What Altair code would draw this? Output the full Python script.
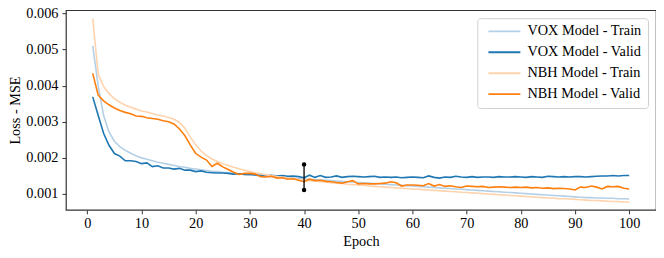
import altair as alt
import pandas as pd

epochs = list(range(1, 101))

vox_train = [
    0.00510, 0.00400, 0.00318, 0.00272, 0.00246, 0.00231, 0.00221, 0.00213, 0.00206, 0.00200,
    0.00196, 0.00192, 0.00188, 0.00185, 0.00182, 0.00179, 0.00176, 0.00174, 0.00171, 0.00169,
    0.00167, 0.00165, 0.00163, 0.00162, 0.00160, 0.00159, 0.00157, 0.00156, 0.00154, 0.00153,
    0.00152, 0.00150, 0.00149, 0.00148, 0.00147, 0.00146, 0.00145, 0.00144, 0.00143, 0.00142,
    0.00141, 0.00140, 0.00139, 0.00138, 0.00137, 0.00136, 0.00135, 0.00134, 0.00133, 0.00132,
    0.00131, 0.00130, 0.00129, 0.00128, 0.00127, 0.00126, 0.00125, 0.00124, 0.00123, 0.00122,
    0.00121, 0.00120, 0.00119, 0.00118, 0.00117, 0.00116, 0.00115, 0.00114, 0.00113, 0.00112,
    0.00111, 0.00110, 0.00109, 0.00108, 0.00107, 0.00106, 0.00105, 0.00104, 0.00103, 0.00102,
    0.00101, 0.00100, 0.00099, 0.00098, 0.00097, 0.00096, 0.00095, 0.00094, 0.00093, 0.00092,
    0.00091, 0.00090, 0.00090, 0.00089, 0.00089, 0.00088, 0.00088, 0.00087, 0.00087, 0.00086,
]

vox_valid = [
    0.00369, 0.00318, 0.00268, 0.00235, 0.00212, 0.00205, 0.00192, 0.00192, 0.00190, 0.00184,
    0.00186, 0.00176, 0.00178, 0.00172, 0.00172, 0.00169, 0.00171, 0.00166, 0.00166, 0.00162,
    0.00164, 0.00160, 0.00159, 0.00158, 0.00158, 0.00157, 0.00155, 0.00156, 0.00154, 0.00155,
    0.00153, 0.00152, 0.00151, 0.00152, 0.00150, 0.00151, 0.00149, 0.00150, 0.00148, 0.00145,
    0.00152, 0.00146, 0.00151, 0.00146, 0.00147, 0.00150, 0.00146, 0.00148, 0.00149, 0.00148,
    0.00147, 0.00148, 0.00149, 0.00146, 0.00147, 0.00146, 0.00147, 0.00145, 0.00146, 0.00147,
    0.00146, 0.00145, 0.00150, 0.00146, 0.00144, 0.00147, 0.00146, 0.00149, 0.00147, 0.00146,
    0.00148, 0.00146, 0.00147, 0.00147, 0.00146, 0.00148, 0.00147, 0.00147, 0.00148, 0.00147,
    0.00146, 0.00148, 0.00147, 0.00146, 0.00149, 0.00148, 0.00147, 0.00148, 0.00147, 0.00148,
    0.00148, 0.00147, 0.00148, 0.00149, 0.00150, 0.00150, 0.00151, 0.00150, 0.00151, 0.00151,
]

nbh_train = [
    0.00586, 0.00432, 0.00398, 0.00378, 0.00364, 0.00354, 0.00346, 0.00340, 0.00335, 0.00330,
    0.00327, 0.00323, 0.00319, 0.00316, 0.00312, 0.00307, 0.00298, 0.00282, 0.00258, 0.00236,
    0.00219, 0.00206, 0.00197, 0.00190, 0.00184, 0.00179, 0.00174, 0.00170, 0.00166, 0.00162,
    0.00159, 0.00156, 0.00153, 0.00151, 0.00148, 0.00146, 0.00144, 0.00142, 0.00140, 0.00139,
    0.00137, 0.00136, 0.00134, 0.00133, 0.00131, 0.00130, 0.00129, 0.00127, 0.00126, 0.00125,
    0.00124, 0.00122, 0.00121, 0.00120, 0.00119, 0.00118, 0.00117, 0.00116, 0.00115, 0.00114,
    0.00113, 0.00112, 0.00111, 0.00110, 0.00109, 0.00108, 0.00107, 0.00106, 0.00105, 0.00104,
    0.00103, 0.00102, 0.00101, 0.00100, 0.00099, 0.00098, 0.00097, 0.00096, 0.00095, 0.00094,
    0.00093, 0.00092, 0.00091, 0.00090, 0.00089, 0.00088, 0.00087, 0.00087, 0.00086, 0.00085,
    0.00084, 0.00083, 0.00082, 0.00082, 0.00081, 0.00080, 0.00079, 0.00079, 0.00078, 0.00077,
]

nbh_valid = [
    0.00434, 0.00374, 0.00358, 0.00347, 0.00338, 0.00331, 0.00326, 0.00322, 0.00316, 0.00315,
    0.00311, 0.00309, 0.00307, 0.00303, 0.00300, 0.00294, 0.00280, 0.00262, 0.00236, 0.00212,
    0.00202, 0.00194, 0.00176, 0.00185, 0.00175, 0.00168, 0.00160, 0.00154, 0.00157, 0.00157,
    0.00155, 0.00148, 0.00147, 0.00149, 0.00144, 0.00145, 0.00141, 0.00142, 0.00138, 0.00134,
    0.00141, 0.00137, 0.00138, 0.00135, 0.00134, 0.00132, 0.00130, 0.00134, 0.00137, 0.00128,
    0.00129, 0.00128, 0.00128, 0.00129, 0.00130, 0.00134, 0.00131, 0.00122, 0.00125, 0.00125,
    0.00124, 0.00123, 0.00129, 0.00122, 0.00126, 0.00121, 0.00123, 0.00120, 0.00118, 0.00122,
    0.00121, 0.00120, 0.00121, 0.00118, 0.00119, 0.00120, 0.00119, 0.00118, 0.00119, 0.00118,
    0.00119, 0.00117, 0.00118, 0.00116, 0.00117, 0.00115, 0.00116, 0.00115, 0.00114, 0.00111,
    0.00119, 0.00118, 0.00122, 0.00119, 0.00114, 0.00121, 0.00120, 0.00121, 0.00116, 0.00114,
]

series_names = ["VOX Model - Train", "VOX Model - Valid", "NBH Model - Train", "NBH Model - Valid"]
series_colors = ["#b4d0e6", "#1f77b4", "#ffd3ad", "#ff7f0e"]

errbar_epoch = [40]
errbar_low = [0.00111]
errbar_high = [0.00182]

x_ticks = [0, 10, 20, 30, 40, 50, 60, 70, 80, 90, 100]
y_ticks = [0.001, 0.002, 0.003, 0.004, 0.005, 0.006]

rows = []
for order, (name, vals) in enumerate(zip(series_names, [vox_train, vox_valid, nbh_train, nbh_valid])):
    for e, v in zip(epochs, vals):
        rows.append({"epoch": e, "loss": v, "series": name, "order": order})
df = pd.DataFrame(rows)

err_df = pd.DataFrame({"epoch": errbar_epoch, "low": errbar_low, "high": errbar_high})
err_pts = pd.DataFrame({"epoch": errbar_epoch * 2, "val": errbar_low + errbar_high})

FONT = "Liberation Serif"
FS = 14.3

xscale = alt.Scale(domain=[-3.95, 104.95], nice=False, zero=False)
yscale = alt.Scale(domain=[0.00056, 0.00609], nice=False, zero=False)

xaxis = alt.Axis(values=x_ticks, title="Epoch", grid=False, domain=False, labelFlush=False,
                 labelOverlap=False, tickSize=4, tickColor="#333", labelPadding=3, titlePadding=3)
yaxis = alt.Axis(values=y_ticks, format=".3f", title="Loss - MSE", grid=False, domain=False,
                 labelFlush=False, labelOverlap=False, tickSize=4, tickColor="#333",
                 labelPadding=4, titlePadding=3)

lines = alt.Chart(df).mark_line(strokeWidth=1.6).encode(
    x=alt.X("epoch:Q", scale=xscale, axis=xaxis),
    y=alt.Y("loss:Q", scale=yscale, axis=yaxis),
    color=alt.Color(
        "series:N",
        scale=alt.Scale(domain=series_names, range=series_colors),
        legend=alt.Legend(
            title=None, orient="top-right", offset=8, symbolType="M-1,0H15",
            symbolSize=16, symbolStrokeWidth=1.8, labelFontSize=FS, labelFont=FONT,
            labelColor="#000", padding=6, rowPadding=6, labelOffset=30,
            strokeColor="#d0d0d0", fillColor="white", cornerRadius=3,
        ),
    ),
    order=alt.Order("order:Q"),
    detail="series:N",
)

rule = alt.Chart(err_df).mark_rule(color="black", strokeWidth=1.3).encode(
    x=alt.X("epoch:Q", scale=xscale, axis=xaxis),
    y=alt.Y("low:Q", scale=yscale, axis=yaxis),
    y2="high:Q",
)

pts = alt.Chart(err_pts).mark_point(filled=True, color="black", size=20, opacity=1).encode(
    x=alt.X("epoch:Q", scale=xscale, axis=xaxis),
    y=alt.Y("val:Q", scale=yscale, axis=yaxis),
)

chart = alt.layer(lines, rule, pts).properties(
    width=591, height=200,
    padding={"left": 58, "top": 2, "right": 0, "bottom": 46},
    autosize=alt.AutoSizeParams(type="none"),
).configure_view(
    stroke="#333", strokeWidth=1.2
).configure_axis(
    labelFont=FONT, titleFont=FONT, labelFontSize=FS, titleFontSize=FS,
    labelColor="#000", titleColor="#000", titleFontWeight="normal", labelOverlap=False,
)

chart.save("out.html", embed_options={"renderer": "svg", "actions": False})
